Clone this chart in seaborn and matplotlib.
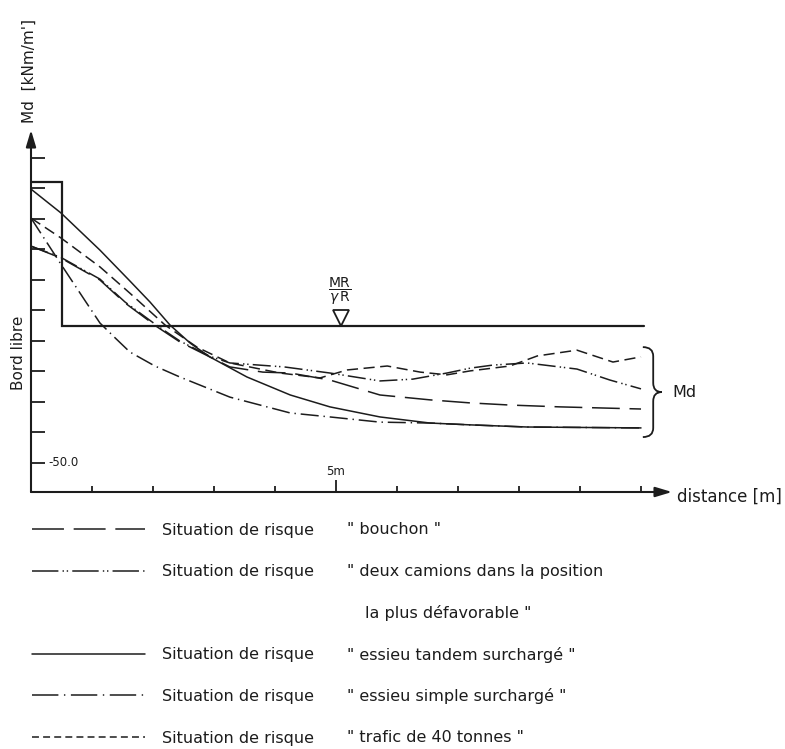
import matplotlib
matplotlib.use('Agg')
import matplotlib.pyplot as plt
from matplotlib.lines import Line2D
from matplotlib.path import Path
from matplotlib.patches import PathPatch
import pandas as pd
import seaborn as sns

# distance [m] / Md [kNm/m']
dist_bouchon = [0, 0.49, 1.13, 1.54, 2.07, 2.44, 2.93, 3.26, 3.8, 4.25, 4.9, 5.72, 6.54, 7.2, 7.85, 8.67, 10.0]
md_bouchon = [121.1, 117.2, 110.0, 102.5, 94.6, 89.7, 84.8, 81.5, 79.8, 79.5, 77.2, 72.3, 70.7, 69.7, 69.0, 68.4, 67.7]

dist_camions = [0, 0.49, 1.13, 1.54, 2.07, 2.44, 2.93, 3.26, 4.15, 4.9, 5.72, 6.26, 6.82, 7.2, 7.57, 8.13, 8.95, 9.49, 10.0]
md_camions = [121.1, 117.4, 110.3, 102.8, 95.0, 90.0, 85.0, 82.8, 81.5, 79.5, 76.9, 77.5, 79.5, 81.1, 82.1, 82.8, 80.8, 77.2, 74.3]

dist_tandem = [0, 0.49, 1.13, 1.62, 1.95, 2.28, 2.61, 2.93, 3.54, 4.25, 4.9, 5.72, 6.54, 7.2, 8.13, 10.0]
md_tandem = [139.8, 132.0, 119.8, 109.7, 102.8, 95.2, 89.3, 84.8, 78.2, 72.3, 68.4, 65.1, 63.1, 62.5, 61.8, 61.5]

dist_simple = [0, 0.49, 0.89, 1.13, 1.38, 1.62, 2.03, 2.44, 3.26, 4.25, 4.9, 5.72, 6.54, 7.2, 8.13, 10.0]
md_simple = [130.3, 115.2, 103.1, 95.9, 91.0, 86.4, 81.8, 78.2, 71.6, 66.4, 65.1, 63.4, 63.1, 62.5, 61.8, 61.5]

dist_trafic = [0, 0.49, 1.13, 1.62, 2.2, 2.72, 3.26, 4.08, 4.74, 5.18, 5.84, 6.38, 6.82, 7.2, 7.85, 8.3, 8.95, 9.54, 10.0]
md_trafic = [130.3, 123.8, 114.3, 105.7, 95.2, 88.0, 82.8, 79.5, 77.9, 80.5, 81.8, 79.8, 78.9, 80.2, 81.8, 85.1, 87.0, 83.1, 84.8]

# resistance MR/gammaR with the "bord libre" step
dist_resist = [0, 0.5, 0.5, 10.05]
md_resist = [142.2, 142.2, 95.0, 95.0]

situations = ['bouchon', 'camions', 'tandem', 'simple', 'trafic']
descriptions = ['" bouchon "',
                '" deux camions dans la position',
                'la plus défavorable "',
                '" essieu tandem surchargé "',
                '" essieu simple surchargé "',
                '" trafic de 40 tonnes "']

INK = '#1c1c1c'
plot_dashes = {'bouchon': (20, 7), 'camions': (13, 3, 1, 2, 1, 3), 'tandem': '',
               'simple': (13, 3.5, 1, 3.5), 'trafic': (8, 4)}
key_dashes = {'bouchon': (23, 7), 'camions': (19, 3, 1, 2, 1, 3), 'tandem': None,
              'simple': (19, 4, 1, 4), 'trafic': (5, 3)}

sns.set_style('white')
plt.rcParams['font.family'] = ['DejaVu Sans']
plt.rcParams['mathtext.fontset'] = 'dejavusans'
plt.rcParams['lines.scale_dashes'] = False

frames = []
for name, xs, ys in zip(situations,
                        [dist_bouchon, dist_camions, dist_tandem, dist_simple, dist_trafic],
                        [md_bouchon, md_camions, md_tandem, md_simple, md_trafic]):
    frames.append(pd.DataFrame({'distance': xs, 'Md': ys, 'situation': name}))
curves = pd.concat(frames, ignore_index=True)

fig = plt.figure(figsize=(7.85, 7.49), dpi=100)
fig.patch.set_facecolor('white')
ax = fig.add_axes([31 / 785, 257 / 749, 641 / 785, 362 / 749])

sns.lineplot(data=curves, x='distance', y='Md', style='situation', dashes=plot_dashes,
             color=INK, linewidth=1.1, sort=False, estimator=None, legend=False, ax=ax)
ax.plot(dist_resist, md_resist, color=INK, lw=1.6, solid_joinstyle='miter')

ax.set_xlim(0, 10.508)
ax.set_ylim(40.49, 159.18)
for side in ax.spines.values():
    side.set_visible(False)
ax.set_xlabel('')
ax.set_ylabel('')

# axes with arrow heads
arrow = dict(arrowstyle='-|>,head_length=0.5,head_width=0.15', color=INK, lw=1.5,
             shrinkA=0, shrinkB=0, mutation_scale=20)
ax.annotate('', xy=(0, 1), xytext=(0, 0), xycoords='axes fraction', arrowprops=arrow,
            annotation_clip=False)
ax.annotate('', xy=(1, 0), xytext=(0, 0), xycoords='axes fraction', arrowprops=arrow,
            annotation_clip=False)

ax.set_yticks(range(50, 151, 10))
ax.set_xticks([1, 2, 3, 4, 6, 7, 8, 9, 10])
ax.set_xticks([5], minor=True)
ax.tick_params(axis='y', direction='in', length=10, width=1.3, color=INK, labelleft=False, left=True)
ax.tick_params(axis='x', which='major', direction='in', length=4.5, width=1.3, color=INK,
               labelbottom=False, bottom=True)
ax.tick_params(axis='x', which='minor', direction='in', length=8.5, width=1.3, color=INK,
               labelbottom=False, bottom=True)

ax.text(0.28, 50, '-50.0', va='center', ha='left', fontsize=8.5, color=INK)
ax.text(5, 47.1, '5m', va='center', ha='center', fontsize=8.5, color=INK)

# resistance marker and label
ax.plot([5.08], [md_resist[-1] + 2.7], marker='v', ms=12, mfc='white', mec=INK, mew=1.3,
        clip_on=False)
ax.text(5.07, 106.3, r'$\dfrac{\mathrm{MR}}{\gamma\,\mathrm{R}}$', ha='center', va='center',
        fontsize=10, color=INK)

# brace around the curve ends
ends = [md_bouchon[-1], md_camions[-1], md_tandem[-1], md_simple[-1], md_trafic[-1]]
y_top, y_bot = max(ends) + 3.2, min(ends) - 3.0
y_mid = (y_top + y_bot) / 2
xl, xs, xt, r = 10.03, 10.2, 10.34, 3.0
brace = Path([(xl, y_top), (xs, y_top), (xs, y_top - r),
              (xs, y_mid + r), (xs, y_mid), (xt, y_mid),
              (xs, y_mid), (xs, y_mid - r),
              (xs, y_bot + r), (xs, y_bot), (xl, y_bot)],
             [Path.MOVETO, Path.CURVE3, Path.CURVE3,
              Path.LINETO, Path.CURVE3, Path.CURVE3,
              Path.CURVE3, Path.CURVE3,
              Path.LINETO, Path.CURVE3, Path.CURVE3])
ax.add_patch(PathPatch(brace, fill=False, ec=INK, lw=1.3, clip_on=False))
ax.text(10.52, y_mid, 'Md', va='center', ha='left', fontsize=11.5, color=INK, clip_on=False)

ax.text(10.59, 38.9, 'distance [m]', va='center', ha='left', fontsize=12, color=INK)
ax.text(-0.03, 161.5, "Md  [kNm/m']", rotation=90, ha='center', va='bottom', fontsize=11,
        color=INK)
ax.text(-0.2, 86.1, 'Bord libre', rotation=90, ha='center', va='center', fontsize=11,
        color=INK)

# legend: rows every ~41.6 px, first row centred at 530 px
LEG_FS = 11.5
fs_px = LEG_FS * fig.dpi / 72
fig.canvas.draw()
renderer = fig.canvas.get_renderer()
probe = fig.text(0, 0, 'lp', fontsize=LEG_FS)
row_h = probe.get_window_extent(renderer).height
probe.remove()

handles = []
for name in ['bouchon', 'camions', None, 'tandem', 'simple', 'trafic']:
    if name is None:
        handles.append(Line2D([], [], color='none'))
    elif key_dashes[name] is None:
        handles.append(Line2D([], [], color=INK, lw=1.1))
    else:
        handles.append(Line2D([], [], color=INK, lw=1.1, dashes=key_dashes[name]))
labels = ['Situation de risque', 'Situation de risque', ' ',
          'Situation de risque', 'Situation de risque', 'Situation de risque']
leg = fig.legend(handles, labels, loc='upper left',
                 bbox_to_anchor=(32 / 785, (749 - 530 + row_h / 2) / 749),
                 frameon=False, fontsize=LEG_FS, handlelength=113 / fs_px,
                 handletextpad=17 / fs_px, labelspacing=(41.6 - row_h) / fs_px,
                 borderpad=0, borderaxespad=0, labelcolor=INK)

fig.canvas.draw()
for i, (txt, desc) in enumerate(zip(leg.get_texts(), descriptions)):
    bb = txt.get_window_extent(renderer)
    yc = (bb.y0 + bb.y1) / 2 / fig.bbox.height
    x0 = 365 if i == 2 else 347
    fig.text(x0 / 785, yc, desc, va='center', ha='left', fontsize=LEG_FS, color=INK)

fig.savefig('out.png', dpi=100)
